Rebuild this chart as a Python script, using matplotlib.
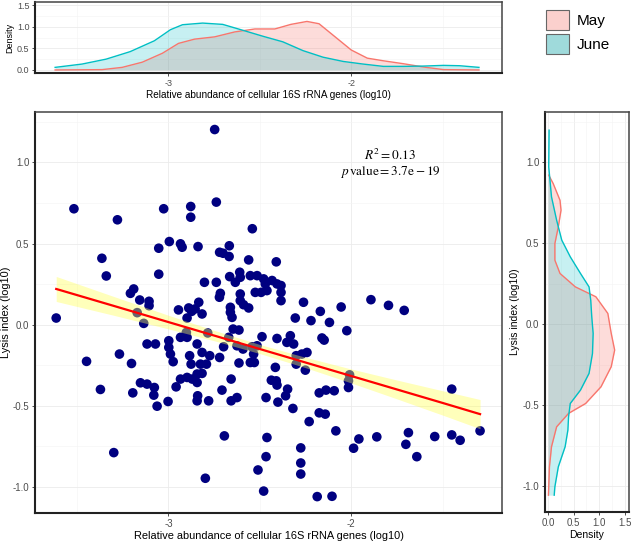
import numpy as np
import matplotlib
matplotlib.use('Agg')
import matplotlib.pyplot as plt
from matplotlib.patches import Patch
from matplotlib.ticker import AutoMinorLocator

plt.rcParams['font.family'] = ['Liberation Sans', 'DejaVu Sans']
plt.rcParams['mathtext.fontset'] = 'stix'

# scatter: relative abundance (log10) vs lysis index (log10)
abundance = [
    -2.747, -3.517, -3.279, -3.026, -2.878, -2.878, -2.738, -2.541, -3.053, -2.995,
    -2.934, -2.925, -2.838, -2.720, -2.701, -2.667, -2.668, -2.561, -2.410, -3.364,
    -3.340, -3.053, -2.738, -2.803, -2.716, -2.721, -2.665, -2.634, -2.610, -2.607,
    -2.552, -2.515, -2.479, -2.470, -2.433, -2.406, -2.384, -2.384, -2.384, -2.525,
    -2.493, -2.461, -2.607, -2.607, -2.589, -2.561, -2.661, -2.661, -2.652, -2.646,
    -2.614, -3.208, -3.190, -3.157, -3.106, -3.106, -2.945, -2.889, -2.873, -2.854,
    -2.834, -2.816, -2.898, -3.171, -3.135, -3.614, -2.785, -2.306, -2.220, -2.169,
    -2.261, -1.892, -1.796, -1.710, -2.055, -2.119, -2.024, -2.160, -2.148, -2.242,
    -2.270, -2.251, -2.009, -2.015, -2.015, -2.175, -2.138, -2.093, -1.450, -2.175,
    -2.142, -2.230, -2.084, -1.295, -1.450, -1.404, -1.543, -1.687, -1.701, -1.641,
    -1.860, -1.958, -1.987, -2.276, -2.276, -2.276, -2.186, -2.105, -3.448, -3.372,
    -3.268, -3.202, -3.299, -3.195, -3.153, -3.117, -3.071, -2.998, -2.989, -2.974,
    -3.117, -3.077, -3.080, -3.062, -3.002, -2.958, -2.934, -2.934, -2.898, -2.884,
    -2.876, -2.843, -2.816, -2.774, -2.825, -2.792, -2.898, -2.870, -2.843, -2.816,
    -2.843, -2.840, -2.843, -2.780, -2.707, -2.657, -2.657, -2.625, -2.720, -2.698,
    -2.670, -2.625, -2.592, -2.614, -2.552, -2.530, -2.515, -2.488, -2.406, -2.415,
    -2.437, -2.410, -2.406, -2.348, -2.359, -2.466, -2.401, -2.319, -2.333, -2.315,
    -2.352, -2.301, -2.301, -2.694, -2.461, -2.466, -2.510, -2.479, -2.798, -2.998,
    -2.902, -2.543, -2.534,
]
lysis = [
    1.202, 0.714, 0.646, 0.714, 0.728, 0.662, 0.755, 0.591, 0.471, 0.512,
    0.498, 0.477, 0.481, 0.446, 0.440, 0.486, 0.420, 0.399, 0.387, 0.409,
    0.300, 0.311, 0.261, 0.261, 0.193, 0.169, 0.296, 0.261, 0.323, 0.292,
    0.302, 0.302, 0.282, 0.251, 0.272, 0.251, 0.241, 0.199, 0.148, 0.199,
    0.199, 0.210, 0.189, 0.148, 0.123, 0.103, 0.107, 0.076, 0.045, -0.027,
    -0.033, 0.193, 0.220, 0.152, 0.144, 0.117, 0.091, 0.103, 0.082, 0.097,
    0.138, 0.066, 0.041, 0.074, 0.008, 0.041, -0.051, 0.041, 0.025, 0.082,
    0.138, 0.154, 0.119, 0.088, 0.109, 0.014, -0.037, -0.082, -0.095, -0.171,
    -0.181, -0.280, -0.309, -0.346, -0.387, -0.420, -0.403, -0.407, -0.397, -0.543,
    -0.551, -0.597, -0.654, -0.654, -0.679, -0.712, -0.689, -0.665, -0.737, -0.813,
    -0.691, -0.704, -0.761, -0.759, -0.852, -0.920, -1.059, -1.057, -0.226, -0.399,
    -0.181, -0.239, -0.788, -0.420, -0.358, -0.119, -0.119, -0.140, -0.181, -0.228,
    -0.366, -0.387, -0.434, -0.502, -0.473, -0.383, -0.335, -0.078, -0.078, -0.191,
    -0.243, -0.119, -0.171, -0.191, -0.243, -0.243, -0.325, -0.335, -0.304, -0.300,
    -0.356, -0.438, -0.469, -0.469, -0.403, -0.335, -0.469, -0.449, -0.202, -0.136,
    -0.078, -0.130, -0.150, -0.236, -0.233, -0.233, -0.130, -0.074, -0.085, -0.263,
    -0.342, -0.346, -0.372, -0.397, -0.438, -0.449, -0.477, -0.516, -0.068, -0.119,
    -0.109, -0.191, -0.243, -0.685, -0.695, -0.813, -0.895, -1.025, -0.946, -0.099,
    -0.048, -0.136, -0.181,
]

# linear fit and its confidence band
fit_x = [-3.614, -3.3, -3.0, -2.75, -2.5, -2.25, -2.0, -1.75, -1.5, -1.295]
fit_y = [0.220, 0.116, 0.016, -0.067, -0.150, -0.233, -0.316, -0.399, -0.482, -0.551]
fit_ci = [0.077, 0.058, 0.042, 0.032, 0.028, 0.032, 0.043, 0.058, 0.075, 0.090]

# marginal density of abundance
may_x = [-3.62, -3.363, -3.253, -3.143, -3.033, -2.945, -2.857, -2.747, -2.637, -2.527,
         -2.418, -2.330, -2.242, -2.176, -2.088, -2.0, -1.912, -1.824, -1.714, -1.604,
         -1.495, -1.301]
may_d = [0.0, 0.008, 0.06, 0.18, 0.386, 0.614, 0.712, 0.765, 0.879, 0.947,
         0.947, 1.053, 1.121, 1.068, 0.765, 0.462, 0.273, 0.212, 0.144, 0.068,
         0.008, 0.0]
june_x = [-3.62, -3.473, -3.341, -3.209, -3.077, -2.989, -2.923, -2.813, -2.703, -2.593,
          -2.484, -2.374, -2.264, -2.154, -2.044, -1.934, -1.824, -1.714, -1.604, -1.495,
          -1.407, -1.301]
june_d = [0.06, 0.136, 0.25, 0.424, 0.674, 0.93, 1.045, 1.083, 1.053, 0.917,
          0.78, 0.65, 0.447, 0.295, 0.197, 0.136, 0.083, 0.083, 0.09, 0.106,
          0.098, 0.06]

# marginal density of lysis index
may_ly = [0.920, 0.868, 0.765, 0.704, 0.601, 0.498, 0.395, 0.313, 0.230, 0.169,
          0.066, -0.057, -0.160, -0.263, -0.387, -0.490, -0.551, -0.634, -0.757, -0.881,
          -1.004, -1.056]
may_ld = [0.013, 0.1, 0.233, 0.253, 0.2, 0.133, 0.133, 0.233, 0.533, 0.933,
          1.167, 1.233, 1.3, 1.233, 1.033, 0.733, 0.4, 0.167, 0.067, 0.027,
          0.013, 0.007]
june_ly = [1.198, 0.971, 0.786, 0.642, 0.519, 0.416, 0.313, 0.230, 0.148, 0.045,
           -0.057, -0.181, -0.304, -0.407, -0.490, -0.572, -0.654, -0.757, -0.881, -1.004,
           -1.056]
june_ld = [0.02, 0.013, 0.067, 0.167, 0.267, 0.433, 0.633, 0.8, 0.833, 0.853,
           0.88, 0.867, 0.8, 0.633, 0.433, 0.4, 0.387, 0.333, 0.2, 0.133,
           0.12]

may_col = '#F8766D'
june_col = '#00BFC4'
xlim = (-3.73, -1.175)
ylim = (-1.16, 1.31)


def style(ax, fs):
    for k, s in ax.spines.items():
        if k in ('left', 'bottom'):
            s.set_color('#222222')
            s.set_linewidth(1.5)
        else:
            s.set_color('#444444')
            s.set_linewidth(1.1)
    ax.xaxis.set_minor_locator(AutoMinorLocator(2))
    ax.yaxis.set_minor_locator(AutoMinorLocator(2))
    ax.grid(which='major', color='#EBEBEB', lw=0.6)
    ax.grid(which='minor', color='#F4F4F4', lw=0.4)
    ax.set_axisbelow(True)
    ax.tick_params(which='major', length=2.5, width=0.6, color='#333333',
                   labelsize=fs, labelcolor='#4D4D4D', pad=1.5)
    ax.tick_params(which='minor', length=0)


fig = plt.figure(figsize=(6.33, 5.42), dpi=100)
ax = fig.add_axes([35 / 633, 29 / 542, 467 / 633, 401 / 542])
ax_top = fig.add_axes([35 / 633, 469 / 542, 467 / 633, 71 / 542])
ax_r = fig.add_axes([545 / 633, 30 / 542, 84 / 633, 400 / 542])

# main scatter
ax.scatter(abundance, lysis, s=48, color='#000080', edgecolors='none', zorder=2)
ax.fill_between(fit_x, np.array(fit_y) - np.array(fit_ci), np.array(fit_y) + np.array(fit_ci),
                color='#FFFF55', alpha=0.4, lw=0, zorder=3)
ax.plot(fit_x, fit_y, color='red', lw=1.6, zorder=4)
ax.text(-1.787, 1.043, r'$R^2 = 0.13$', ha='center', va='center', fontsize=9.5)
ax.text(-1.787, 0.938, r'$p\,\mathrm{value} = 3.7\mathrm{e} - 19$', ha='center', va='center',
        fontsize=9.5)
ax.set_xlim(*xlim)
ax.set_ylim(*ylim)
ax.set_xticks([-3, -2])
ax.set_xticklabels(['-3', '-2'])
ax.set_yticks([-1.0, -0.5, 0.0, 0.5, 1.0])
ax.set_yticklabels(['-1.0', '-0.5', '0.0', '0.5', '1.0'])
ax.set_xlabel('Relative abundance of cellular 16S rRNA genes (log10)', fontsize=7.9, labelpad=2)
ax.set_ylabel('Lysis index (log10)', fontsize=7.9, labelpad=1)
style(ax, 7)

# top marginal density
ax_top.fill_between(may_x, may_d, color=may_col, alpha=0.25, lw=0)
ax_top.fill_between(june_x, june_d, color=june_col, alpha=0.22, lw=0)
ax_top.plot(may_x, may_d, color=may_col, lw=1)
ax_top.plot(june_x, june_d, color=june_col, lw=1)
ax_top.set_xlim(*xlim)
ax_top.set_ylim(-0.07, 1.57)
ax_top.set_xticks([-3, -2])
ax_top.set_xticklabels(['-3', '-2'])
ax_top.set_yticks([0.0, 0.5, 1.0, 1.5])
ax_top.set_yticklabels(['0.0', '0.5', '1.0', '1.5'])
ax_top.set_xlabel('Relative abundance of cellular 16S rRNA genes (log10)', fontsize=7.2, labelpad=2)
ax_top.set_ylabel('Density', fontsize=6.5, labelpad=2)
style(ax_top, 6.5)

# right marginal density
ax_r.fill_betweenx(may_ly, may_ld, color=may_col, alpha=0.25, lw=0)
ax_r.fill_betweenx(june_ly, june_ld, color=june_col, alpha=0.22, lw=0)
ax_r.plot(may_ld, may_ly, color=may_col, lw=1)
ax_r.plot(june_ld, june_ly, color=june_col, lw=1)
ax_r.set_xlim(-0.06, 1.58)
ax_r.set_ylim(*ylim)
ax_r.set_xticks([0.0, 0.5, 1.0, 1.5])
ax_r.set_xticklabels(['0.0', '0.5', '1.0', '1.5'])
ax_r.set_yticks([-1.0, -0.5, 0.0, 0.5, 1.0])
ax_r.set_yticklabels(['-1.0', '-0.5', '0.0', '0.5', '1.0'])
ax_r.set_xlabel('Density', fontsize=7.5, labelpad=2)
ax_r.set_ylabel('Lysis index (log10)', fontsize=7.5, labelpad=2)
style(ax_r, 7)

handles = [Patch(facecolor='#FBD0CD', edgecolor='#666666', lw=0.8),
           Patch(facecolor='#9FDADB', edgecolor='#666666', lw=0.8)]
fig.legend(handles, ['May', 'June'], loc='upper left', bbox_to_anchor=(546 / 633, 1 - 10 / 542),
           frameon=False, fontsize=11, handlelength=1.5, handleheight=1.6,
           handletextpad=0.5, labelspacing=0.3, borderpad=0, borderaxespad=0)

fig.savefig('out.png', dpi=100)
